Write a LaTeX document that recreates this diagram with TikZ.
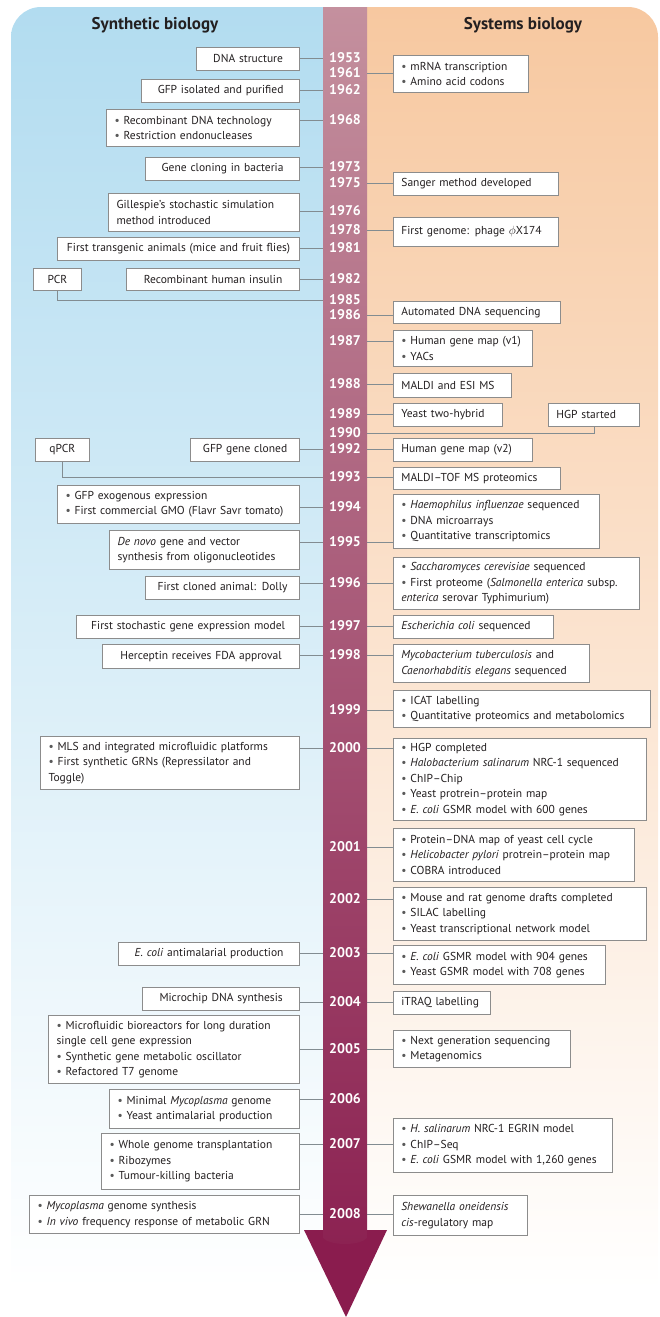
\documentclass[tikz,border=0pt]{standalone}
\usepackage{fontspec}
\setmainfont{PT Sans}
\definecolor{lblue}{RGB}{178,220,240}
\definecolor{peach}{RGB}{247,200,160}
\definecolor{coltop}{RGB}{196,144,158}
\definecolor{colbot}{RGB}{140,34,82}
\definecolor{arrowc}{RGB}{138,28,78}
\definecolor{txt}{RGB}{35,31,32}
\definecolor{boxline}{RGB}{140,140,140}
\definecolor{connc}{RGB}{130,140,145}
\newcommand\bult{{\color{black!65}\textbullet}\ }
\tikzset{
  box/.style={draw=boxline, line width=0.8pt, fill=white, inner xsep=8pt, inner ysep=2pt,
    font=\fontsize{11.5}{15.5}\selectfont, text=txt},
  lc/.style={box, align=center, anchor=north east},
  ll/.style={box, align=left, anchor=north east},
  rb/.style={box, align=left, anchor=north west},
  year/.style={text=white, font=\bfseries\fontsize{14}{14}\selectfont, inner sep=0pt},
  conn/.style={draw=connc, line width=0.8pt},
  title/.style={font=\bfseries\fontsize{17}{17}\selectfont, text=txt, inner sep=0pt}
}
\begin{document}
\begin{tikzpicture}[x=1pt, y=-1pt]
\useasboundingbox (0,0) rectangle (659,1317);
% backgrounds
\shade[top color=lblue, bottom color=white] (11,1290) -- (11,37) .. controls (11,20.4) and (24.4,7) .. (41,7) -- (323,7) -- (323,1290) -- cycle;
\shade[top color=peach, bottom color=white] (367,1290) -- (367,7) -- (628,7) .. controls (644.6,7) and (658,20.4) .. (658,37) -- (658,1290) -- cycle;
\fill[arrowc] (304,1230) -- (387,1230) -- (346,1317) -- cycle;
\shade[top color=coltop, bottom color=colbot] (323,7) -- (367,7) -- (367,1238) .. controls (360,1246) and (330,1246) .. (323,1238) -- cycle;
\coordinate (colL) at (323,0);
\coordinate (colR) at (367,0);
% titles
\node[title] (tsyn) at (155,25) {Synthetic biology};
\node[title] (tsys) at (523,25) {Systems biology};
% years
\foreach \yr/\yy in {1953/58,1961/73,1962/90,1968/120,1973/167,1975/183,1976/211,1978/230,1981/248,1982/279,1985/300,1986/315,1987/341,1988/384,1989/414,1990/433,1992/449,1993/477,1994/507,1995/542,1996/583,1997/626,1998/655,1999/710,2000/748,2001/847,2002/899,2003/953,2004/1002,2005/1049,2006/1099,2007/1144,2008/1214}
  \node[year] (y\yr) at (345,\yy) {\yr};
% left boxes
\node[lc, text width=87, minimum height=23] (b1953) at (300,47) {DNA structure};
\node[lc, text width=142, minimum height=23] (b1962) at (300,79) {GFP isolated and purified};
\node[ll, text width=177, minimum height=37] (b1968) at (300,109) {\bult Recombinant DNA technology\\\bult Restriction endonucleases};
\node[lc, text width=138, minimum height=23] (b1973) at (300,157) {Gene cloning in bacteria};
\node[ll, text width=175, minimum height=38] (b1976) at (300,193) {Gillespie’s stochastic simulation\\method introduced};
\node[lc, text width=226, minimum height=23] (b1981) at (300,237) {First transgenic animals (mice and fruit flies)};
\node[box, align=center, anchor=north west, text width=32, minimum height=22] (pcr) at (33,268) {PCR};
\node[lc, text width=157, minimum height=22] (b1982) at (300,268) {Recombinant human insulin};
\node[box, align=center, anchor=north west, text width=38, minimum height=23] (qpcr) at (35,438) {qPCR};
\node[lc, text width=93, minimum height=23] (b1992) at (300,438) {GFP gene cloned};
\node[ll, text width=226, minimum height=38] (b1994) at (300,485) {\bult GFP exogenous expression\\\bult First commercial GMO (Flavr Savr tomato)};
\node[ll, text width=174, minimum height=39] (b1995) at (300,530) {\textit{De novo} gene and vector\\synthesis from oligonucleotides};
\node[lc, text width=138, minimum height=23] (b1996) at (300,576) {First cloned animal: Dolly};
\node[lc, text width=207, minimum height=23] (b1997) at (300,615) {First stochastic gene expression model};
\node[lc, text width=181, minimum height=24] (b1998) at (300,644) {Herceptin receives FDA approval};
\node[ll, text width=243, minimum height=53] (b2000) at (300,736) {\bult MLS and integrated microfluidic platforms\\\bult First synthetic GRNs (Repressilator and\\Toggle)};
\node[lc, text width=165, minimum height=23] (b2003) at (300,942) {\textit{E. coli} antimalarial production};
\node[lc, text width=141, minimum height=23] (b2004) at (300,987) {Microchip DNA synthesis};
\node[ll, text width=235, minimum height=68] (b2005) at (300,1015) {\bult Microfluidic bioreactors for long duration\\single cell gene expression\\\bult Synthetic gene metabolic oscillator\\\bult Refactored T7 genome};
\node[ll, text width=174, minimum height=39] (b2006) at (300,1089) {\bult Minimal \textit{Mycoplasma} genome\\\bult Yeast antimalarial production};
\node[ll, text width=182, minimum height=56] (b2007) at (300,1133) {\bult Whole genome transplantation\\\bult Ribozymes\\\bult Tumour-killing bacteria};
\node[ll, text width=254, minimum height=38] (b2008) at (300,1195) {\bult \textit{Mycoplasma} genome synthesis\\\bult \textit{In vivo} frequency response of metabolic GRN};
% right boxes
\node[rb, text width=119, minimum height=37] (r1961) at (393,55) {\bult mRNA transcription\\\bult Amino acid codons};
\node[rb, text width=149, minimum height=23] (r1975) at (393,172) {Sanger method developed};
\node[rb, text width=149, minimum height=29] (r1978) at (393,217) {First genome: phage $\phi$X174};
\node[rb, text width=151, minimum height=22] (r1986) at (393,301) {Automated DNA sequencing};
\node[rb, text width=123, minimum height=36] (r1987) at (393,330) {\bult Human gene map (v1)\\\bult YACs};
\node[rb, text width=102, minimum height=24] (r1988) at (393,373) {MALDI and ESI MS};
\node[rb, text width=93, minimum height=23] (r1989) at (393,403) {Yeast two-hybrid};
\node[rb, text width=75, minimum height=23] (hgp) at (548,403) {HGP started};
\node[rb, text width=123, minimum height=23] (r1992) at (393,438) {Human gene map (v2)};
\node[rb, text width=151, minimum height=22] (r1993) at (393,467) {MALDI–TOF MS proteomics};
\node[rb, text width=190, minimum height=54] (r1995) at (393,494) {\bult \textit{Haemophilus influenzae} sequenced\\\bult DNA microarrays\\\bult Quantitative transcriptomics};
\node[rb, text width=230, minimum height=52] (r1996) at (393,557) {\bult \textit{Saccharomyces cerevisiae} sequenced\\\bult First proteome (\textit{Salmonella enterica} subsp.\\\textit{enterica} serovar Typhimurium)};
\node[rb, text width=144, minimum height=23] (r1997) at (393,615) {\textit{Escherichia coli} sequenced};
\node[rb, text width=180, minimum height=38] (r1998) at (393,644) {\textit{Mycobacterium tuberculosis} and\\\textit{Caenorhabditis elegans} sequenced};
\node[rb, text width=241, minimum height=37] (r1999) at (393,690) {\bult ICAT labelling\\\bult Quantitative proteomics and metabolomics};
\node[rb, text width=237, minimum height=82] (r2000) at (393,738) {\bult HGP completed\\\bult \textit{Halobacterium salinarum} NRC-1 sequenced\\\bult ChIP–Chip\\\bult Yeast protrein–protein map\\\bult \textit{E. coli} GSMR model with 600 genes};
\node[rb, text width=225, minimum height=53] (r2001) at (393,828) {\bult Protein–DNA map of yeast cell cycle\\\bult \textit{Helicobacter pylori} protrein–protein map\\\bult COBRA introduced};
\node[rb, text width=237, minimum height=53] (r2002) at (393,887) {\bult Mouse and rat genome drafts completed\\\bult SILAC labelling\\\bult Yeast transcriptional network model};
\node[rb, text width=196, minimum height=39] (r2003) at (393,945) {\bult \textit{E. coli} GSMR model with 904 genes\\\bult Yeast GSMR model with 708 genes};
\node[rb, text width=81, minimum height=23] (r2004) at (393,991) {iTRAQ labelling};
\node[rb, text width=161, minimum height=37] (r2005) at (393,1030) {\bult Next generation sequencing\\\bult Metagenomics};
\node[rb, text width=203, minimum height=54] (r2007) at (393,1118) {\bult \textit{H. salinarum} NRC-1 EGRIN model\\\bult ChIP–Seq\\\bult \textit{E. coli} GSMR model with 1,260 genes};
\node[rb, text width=118, minimum height=40] (r2008) at (393,1195) {\textit{Shewanella oneidensis}\\\textit{cis}-regulatory map};
% left connectors
\foreach \yr in {1953,1962,1968,1973,1976,1981,1982,1992,1994,1995,1996,1997,1998,2000,2003,2004,2005,2006,2007,2008}
  \draw[conn] (y\yr -| b\yr.east) -- (y\yr -| colL);
\draw[conn] (pcr.south) |- (y1985 -| colL);
\draw[conn] (qpcr.south) |- (y1993 -| colL);
% right connectors
\foreach \yr in {1961,1975,1978,1986,1987,1988,1989,1992,1993,1995,1996,1997,1998,1999,2000,2001,2002,2003,2004,2005,2007,2008}
  \draw[conn] (y\yr -| colR) -- (y\yr -| r\yr.west);
\draw[conn] (hgp.south) |- (y1990 -| colR);
\end{tikzpicture}
\end{document}
